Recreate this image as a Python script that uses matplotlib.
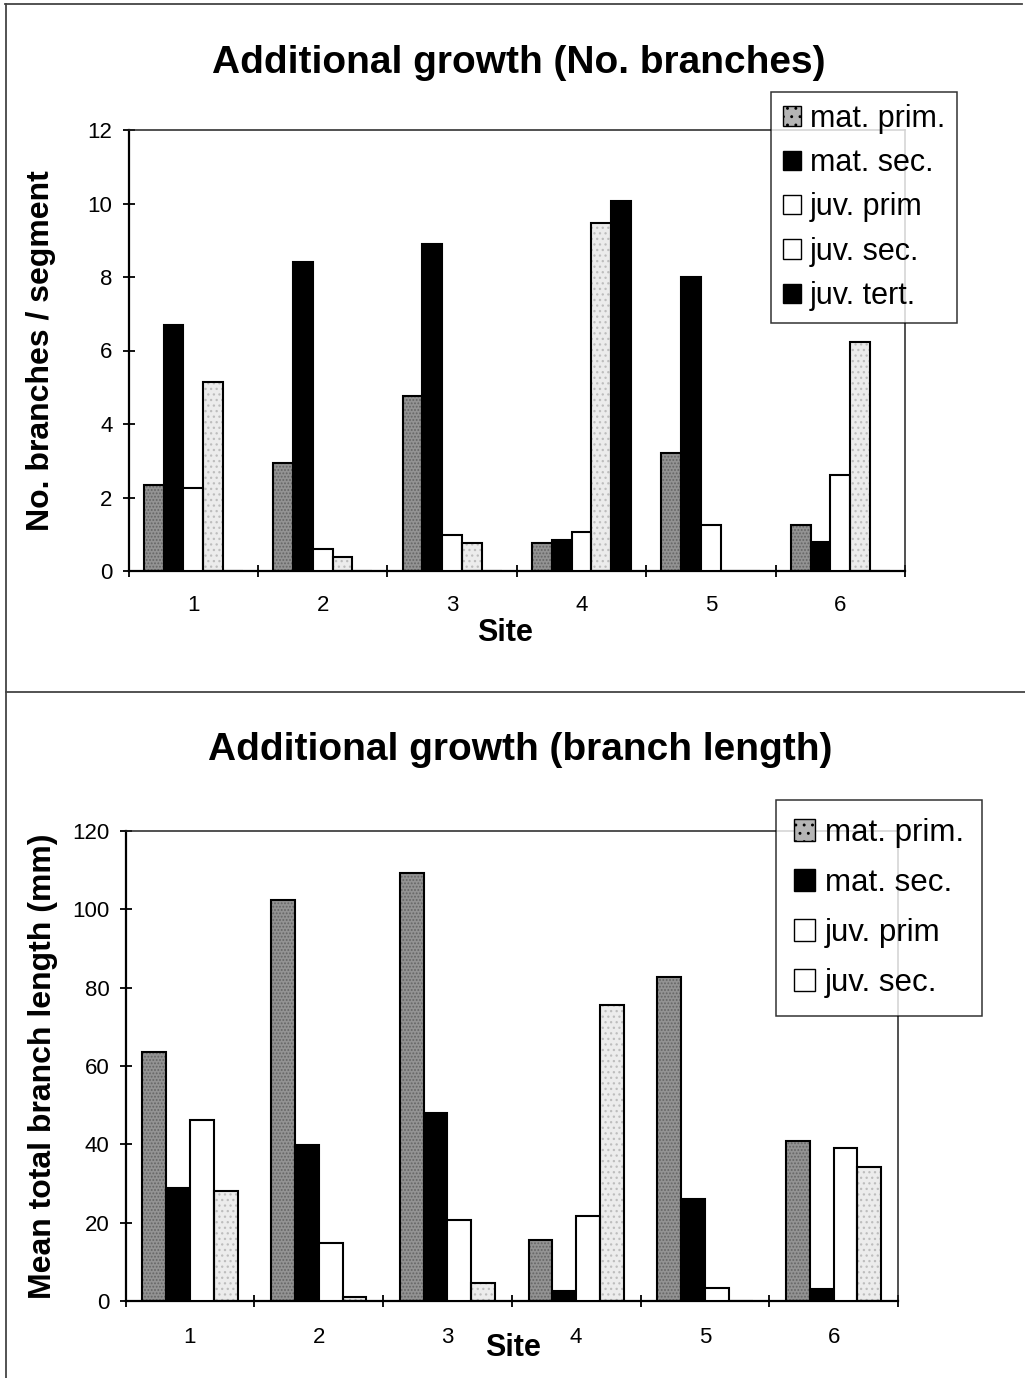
import numpy as np
import matplotlib
matplotlib.use('Agg')
import matplotlib.pyplot as plt
from matplotlib.patches import Patch
from matplotlib.lines import Line2D

plt.rcParams['font.family'] = ['Liberation Sans', 'DejaVu Sans']
plt.rcParams['hatch.linewidth'] = 0.9

# sites
sites = ['1', '2', '3', '4', '5', '6']

# Additional growth (No. branches) - branches / segment
mat_prim_n = [2.35, 2.95, 4.75, 0.75, 3.2, 1.25]
mat_sec_n = [6.7, 8.4, 8.9, 0.85, 8.0, 0.8]
juv_prim_n = [2.25, 0.6, 0.97, 1.05, 1.26, 2.6]
juv_sec_n = [5.15, 0.38, 0.76, 9.48, 0.0, 6.24]
juv_tert_n = [0.0, 0.0, 0.0, 10.08, 0.0, 0.0]
names_n = ['mat. prim.', 'mat. sec.', 'juv. prim', 'juv. sec.', 'juv. tert.']

# Additional growth (branch length) - mm
mat_prim_l = [63.6, 102.4, 109.2, 15.5, 82.7, 40.8]
mat_sec_l = [28.8, 39.8, 47.9, 2.6, 26.0, 3.0]
juv_prim_l = [46.1, 14.9, 20.7, 21.7, 3.4, 39.0]
juv_sec_l = [28.1, 0.9, 4.6, 75.6, 0.0, 34.1]
names_l = ['mat. prim.', 'mat. sec.', 'juv. prim', 'juv. sec.']

# estilos: (cor, hachura, cor da hachura, cor na legenda)
estilos = [
    ('#939393', '.....', '#656565', '#b5b5b5'),
    ('#000000', None, None, '#000000'),
    ('#ffffff', None, None, '#ffffff'),
    ('#ececec', '...', '#bdbdbd', '#ffffff'),
    ('#000000', None, None, '#000000'),
]

W, H = 1025, 1378
fig = plt.figure(figsize=(W / 100, H / 100), dpi=100)


def barras(ax, series, width):
    x = np.arange(len(sites))
    n = len(series)
    for i, vals in enumerate(series):
        cor, hatch, hc, _ = estilos[i]
        pos = x + (i - (n - 1) / 2.) * width
        if hatch:
            ax.bar(pos, vals, width, color=cor, edgecolor=hc, hatch=hatch,
                   linewidth=0, zorder=2)
            ax.bar(pos, vals, width, facecolor='none', edgecolor='black',
                   linewidth=1.5, zorder=3)
        else:
            ax.bar(pos, vals, width, color=cor, edgecolor='black',
                   linewidth=1.5, zorder=3)


def eixos(ax, ymax, ystep, xpad):
    x = np.arange(len(sites))
    ax.set_xlim(-0.5, len(sites) - 0.5)
    ax.set_ylim(0, ymax)
    ax.set_xticks(x)
    ax.set_xticklabels(sites)
    ax.set_xticks(np.arange(-0.5, len(sites), 1), minor=True)
    ax.set_yticks(np.arange(0, ymax + 1, ystep))
    ax.tick_params(axis='x', which='major', length=0, pad=xpad, labelsize=16)
    ax.tick_params(axis='x', which='minor', length=9, width=1.3,
                   direction='inout')
    ax.tick_params(axis='y', length=9, width=1.3, direction='inout',
                   pad=7, labelsize=16)
    for s in ['left', 'bottom']:
        ax.spines[s].set_linewidth(1.6)
    for s in ['top', 'right']:
        ax.spines[s].set_linewidth(1.1)
        ax.spines[s].set_color('#222222')


def legenda(names, x0, y0, spacing, fs=22, hl=0.6, bp=0.42, tp=0.3):
    hs = [Patch(facecolor=estilos[i][3], edgecolor='black', linewidth=1.0,
                hatch=('..' if i == 0 else None)) for i in range(len(names))]
    lg = fig.legend(hs, names, loc='upper left',
                    bbox_to_anchor=(x0 / W, 1 - y0 / H),
                    bbox_transform=fig.transFigure, fontsize=fs,
                    frameon=True, fancybox=False, edgecolor='black',
                    handlelength=hl, handleheight=hl, handletextpad=tp,
                    labelspacing=spacing, borderpad=bp, borderaxespad=0)
    lg.get_frame().set_linewidth(1.1)
    return lg


# ---------------- grafico de cima ----------------
ax1 = fig.add_axes([128.5 / W, 1 - 571 / H, 776.5 / W, 441 / H])
barras(ax1, [mat_prim_n, mat_sec_n, juv_prim_n, juv_sec_n, juv_tert_n], 0.153)
eixos(ax1, 12, 2, 17)
ax1.set_ylabel('No. branches / segment', fontsize=23, fontweight='bold')
ax1.yaxis.set_label_coords(-0.093, 0.5)
ax1.set_xlabel('Site', fontsize=22, fontweight='bold', va='center')
ax1.xaxis.set_label_coords(0.485, -0.141)
fig.text(519 / W, 1 - 63 / H, 'Additional growth (No. branches)',
         ha='center', va='center', fontsize=28, fontweight='bold')
legenda(names_n, 771, 92, 0.47, bp=0.38)

# ---------------- grafico de baixo ----------------
ax2 = fig.add_axes([125.6 / W, 1 - 1301 / H, 772.4 / W, 470 / H])
barras(ax2, [mat_prim_l, mat_sec_l, juv_prim_l, juv_sec_l], 0.185)
eixos(ax2, 120, 20, 19)
ax2.set_ylabel('Mean total branch length (mm)', fontsize=23,
               fontweight='bold')
ax2.yaxis.set_label_coords(-0.0875, 0.5)
ax2.set_xlabel('Site', fontsize=22, fontweight='bold', va='center')
ax2.xaxis.set_label_coords(0.5016, -0.100)
fig.text(520 / W, 1 - 750 / H, 'Additional growth (branch length)',
         ha='center', va='center', fontsize=28, fontweight='bold')
legenda(names_l, 776, 800, 0.64, fs=22.5, hl=0.68, bp=0.58, tp=0.3)

# moldura da pagina
cor_m = '#444444'
fig.add_artist(Line2D([5 / W, 1022 / W], [1 - 4 / H, 1 - 4 / H],
                      transform=fig.transFigure, color=cor_m, lw=1.3))
fig.add_artist(Line2D([6 / W, 6 / W], [1 - 4 / H, 0],
                      transform=fig.transFigure, color=cor_m, lw=1.3))
fig.add_artist(Line2D([6 / W, 1.0], [1 - 692 / H, 1 - 692 / H],
                      transform=fig.transFigure, color=cor_m, lw=1.3))

fig.savefig('out.png', dpi=100)
